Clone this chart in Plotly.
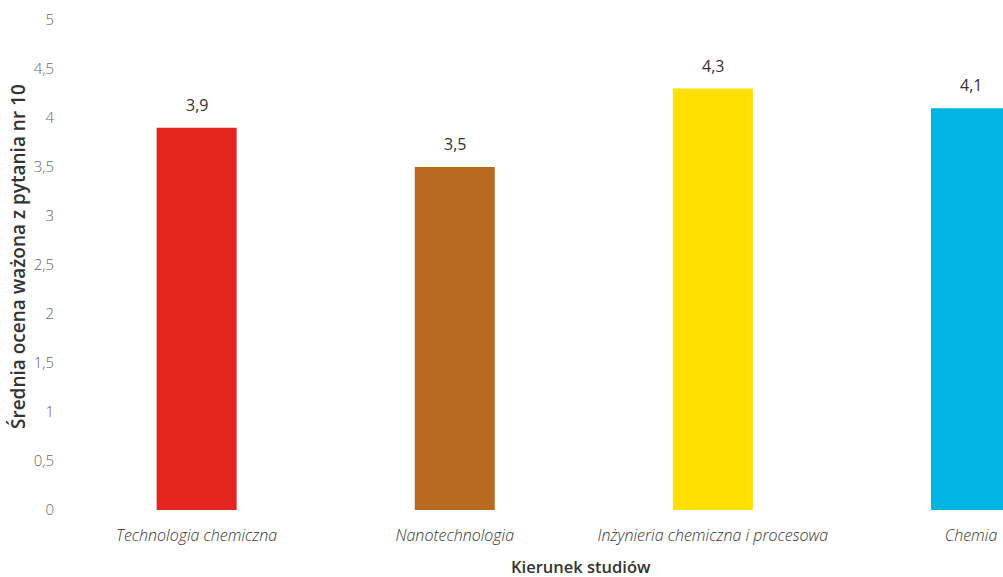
import plotly.graph_objects as go

categories = ["Technologia chemiczna", "Nanotechnologia", "Inżynieria chemiczna i procesowa", "Chemia"]
values = [3.9, 3.5, 4.3, 4.1]
colors = ["#e3241f", "#b86a1f", "#ffe000", "#00b5e2"]
y_title = "Średnia ocena ważona z pytania nr 10"
x_title = "Kierunek studiów"

fig = go.Figure(go.Bar(
    x=categories, y=values, marker=dict(color=colors, line=dict(width=0)),
    width=0.31, cliponaxis=False, hoverinfo="skip",
))

value_annotations = [
    dict(x=c, y=v, text=f"{v:.1f}".replace(".", ","), showarrow=False,
         xanchor="center", yanchor="bottom", yshift=10,
         font=dict(family="Open Sans", size=16, color="#333333"))
    for c, v in zip(categories, values)
]

fig.update_layout(
    width=1003, height=577,
    margin=dict(l=65, r=0, t=20, b=67),
    paper_bgcolor="white", plot_bgcolor="white",
    separators=",.",
    showlegend=False,
    xaxis=dict(range=[-0.51, 3.124], showgrid=False, zeroline=False, showline=False,
               ticks="", ticklabelstandoff=14,
               tickfont=dict(family="Open Sans", size=16, color="#333333", style="italic", weight=300)),
    yaxis=dict(range=[0, 5], dtick=0.5, showgrid=False, zeroline=False, showline=False,
               ticks="", ticklabelstandoff=10,
               tickfont=dict(family="Open Sans", size=15, color="#666666", weight=300)),
    annotations=value_annotations + [
        dict(text=y_title, xref="paper", yref="paper", x=0, xshift=-47, y=0.5, yshift=8,
             textangle=-90, showarrow=False, xanchor="center", yanchor="middle",
             font=dict(family="Open Sans", size=19, color="#333333", weight=600)),
        dict(text=x_title, xref="paper", yref="paper", x=0.550, y=0, yshift=-56,
             showarrow=False, xanchor="center", yanchor="middle",
             font=dict(family="Open Sans", size=16.5, color="#333333", weight=600)),
    ],
)

fig.write_html("out.html", config={"displayModeBar": False},
               post_script="document.body.style.margin='0';document.body.style.overflow='hidden';")
